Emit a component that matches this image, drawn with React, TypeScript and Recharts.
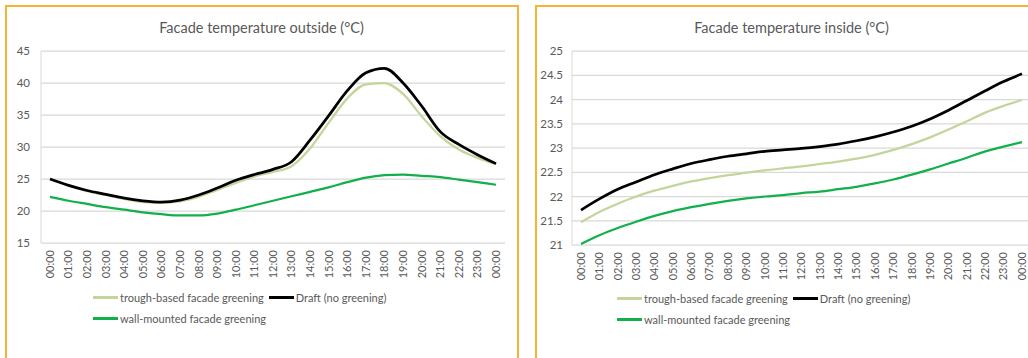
import { LineChart, Line, XAxis, YAxis, CartesianGrid } from "recharts";

const hours = [
  "00:00", "01:00", "02:00", "03:00", "04:00", "05:00", "06:00", "07:00", "08:00",
  "09:00", "10:00", "11:00", "12:00", "13:00", "14:00", "15:00", "16:00", "17:00",
  "18:00", "19:00", "20:00", "21:00", "22:00", "23:00", "00:00",
];

// outside facade temperature (°C)
const outsideTrough = [
  25.0, 24.0, 23.1, 22.5, 21.9, 21.4, 21.3, 21.5, 22.2, 23.3, 24.4, 25.4, 26.1,
  27.0, 29.8, 33.8, 37.6, 39.8, 40.0, 38.3, 34.8, 31.7, 29.6, 28.3, 27.3,
];
const outsideDraft = [
  25.0, 24.0, 23.2, 22.6, 22.0, 21.6, 21.4, 21.7, 22.5, 23.6, 24.8, 25.7, 26.5,
  27.7, 31.1, 34.9, 38.8, 41.6, 42.3, 40.0, 36.4, 32.4, 30.4, 28.8, 27.4,
];
const outsideWall = [
  22.2, 21.6, 21.1, 20.6, 20.2, 19.8, 19.5, 19.3, 19.3, 19.6, 20.2, 20.9, 21.6,
  22.3, 23.0, 23.7, 24.5, 25.2, 25.6, 25.7, 25.5, 25.3, 24.9, 24.5, 24.1,
];

// inside facade temperature (°C)
const insideTrough = [
  21.47, 21.68, 21.85, 22.0, 22.12, 22.22, 22.31, 22.38, 22.44, 22.49, 22.54, 22.58, 22.62,
  22.67, 22.72, 22.78, 22.86, 22.96, 23.08, 23.22, 23.38, 23.55, 23.73, 23.87, 23.99,
];
const insideDraft = [
  21.72, 21.95, 22.15, 22.3, 22.45, 22.57, 22.68, 22.76, 22.83, 22.88, 22.93, 22.96, 22.99,
  23.03, 23.08, 23.15, 23.23, 23.33, 23.45, 23.6, 23.78, 23.98, 24.18, 24.37, 24.53,
];
const insideWall = [
  21.02, 21.2, 21.35, 21.48, 21.6, 21.7, 21.78, 21.85, 21.91, 21.96, 22.0, 22.03, 22.07,
  22.1, 22.15, 22.2, 22.27, 22.35, 22.45, 22.56, 22.68, 22.8, 22.93, 23.03, 23.12,
];

const outsideTicks = [15, 20, 25, 30, 35, 40, 45];
const insideTicks = [21, 21.5, 22, 22.5, 23, 23.5, 24, 24.5, 25];

const SERIES = [
  { key: "trough", name: "trough-based facade greening", color: "#c3d59b", width: 2.25 },
  { key: "draft", name: "Draft (no greening)", color: "#000000", width: 2.75 },
  { key: "wall", name: "wall-mounted facade greening", color: "#12b04a", width: 2.25 },
];

const FONT = "Lato, Carlito, 'Liberation Sans', sans-serif";
const TEXT = "#595959";
const GRID = "#d9d9d9";
const BORDER = "#f9b233";

function buildRows(trough: number[], draft: number[], wall: number[]) {
  return hours.map((hour, i) => ({ hour, trough: trough[i], draft: draft[i], wall: wall[i] }));
}

const HourTick = (props: any) => {
  const { x, y, payload } = props;
  return (
    <text
      x={x}
      y={y}
      transform={`rotate(-90 ${x} ${y})`}
      textAnchor="end"
      dy="0.35em"
      fill={TEXT}
      fontSize={11}
      fontFamily={FONT}
    >
      {payload.value}
    </text>
  );
};

function LegendBox({ left, top }: { left: number; top: number }) {
  return (
    <div
      style={{
        position: "absolute",
        left,
        top,
        width: 330,
        display: "flex",
        flexWrap: "wrap",
        fontFamily: FONT,
        fontSize: 11,
        color: TEXT,
        lineHeight: "21px",
      }}
    >
      {SERIES.map((s) => (
        <div key={s.key} style={{ display: "flex", alignItems: "center", marginRight: 5, height: 21 }}>
          <span
            style={{
              display: "inline-block",
              width: 25,
              height: s.key === "draft" ? 3 : 2.5,
              background: s.color,
              marginRight: 2,
            }}
          />
          <span>{s.name}</span>
        </div>
      ))}
    </div>
  );
}

interface PanelProps {
  left: number;
  title: string;
  rows: ReturnType<typeof buildRows>;
  ticks: number[];
  yWidth: number;
  marginRight: number;
  marginBottom: number;
  labelGap: number;
  legendLeft: number;
  legendTop: number;
  frame: boolean;
}

function Panel({
  left, title, rows, ticks, yWidth, marginRight, marginBottom, labelGap, legendLeft, legendTop, frame,
}: PanelProps) {
  return (
    <div style={{ position: "absolute", left, top: 5, width: 513, height: 358 }}>
      <div
        style={{
          position: "absolute",
          left: 0,
          top: 0,
          width: 510,
          height: 400,
          border: `2px solid ${BORDER}`,
        }}
      />
      <div
        style={{
          position: "absolute",
          left: 0,
          top: 14,
          width: 513,
          textAlign: "center",
          fontFamily: FONT,
          fontSize: 14.5,
          color: TEXT,
        }}
      >
        {title}
      </div>
      <div style={{ position: "absolute", left: 0, top: 0 }}>
        <LineChart
          width={513}
          height={353}
          data={rows}
          margin={{ top: 46, right: marginRight, left: 0, bottom: marginBottom }}
        >
          <CartesianGrid vertical={false} stroke={GRID} strokeWidth={1.25} />
          <XAxis
            dataKey="hour"
            type="category"
            interval={0}
            height={40}
            tickLine={false}
            axisLine={false}
            tickSize={0}
            tickMargin={7}
            padding={{ left: 9, right: 9 }}
            tick={<HourTick />}
          />
          <YAxis
            domain={[ticks[0], ticks[ticks.length - 1]]}
            ticks={ticks}
            width={yWidth}
            tickLine={false}
            axisLine={{ stroke: GRID }}
            tickSize={0}
            tickMargin={labelGap}
            tick={{ fill: TEXT, fontSize: 11.5, fontFamily: FONT }}
          />
          {frame && (
            <YAxis yAxisId="frame" orientation="right" width={0} tick={false} tickLine={false} axisLine={{ stroke: GRID }} />
          )}
          {SERIES.map((s) => (
            <Line
              key={s.key}
              type="monotone"
              dataKey={s.key}
              name={s.name}
              stroke={s.color}
              strokeWidth={s.width}
              dot={false}
              isAnimationActive={false}
            />
          ))}
        </LineChart>
      </div>
      <LegendBox left={legendLeft} top={legendTop} />
    </div>
  );
}

export default function App() {
  return (
    <div
      style={{
        position: "fixed",
        left: 0,
        top: 0,
        width: 1028,
        height: 358,
        overflow: "hidden",
        background: "#ffffff",
      }}
    >
      <Panel
        left={5}
        title="Facade temperature outside (°C)"
        rows={buildRows(outsideTrough, outsideDraft, outsideWall)}
        ticks={outsideTicks}
        yWidth={36}
        marginRight={13}
        marginBottom={75}
        labelGap={11}
        legendLeft={88}
        legendTop={282}
        frame={true}
      />
      <Panel
        left={535}
        title="Facade temperature inside (°C)"
        rows={buildRows(insideTrough, insideDraft, insideWall)}
        ticks={insideTicks}
        yWidth={37}
        marginRight={17}
        marginBottom={73}
        labelGap={9}
        legendLeft={82}
        legendTop={283}
        frame={false}
      />
    </div>
  );
}
